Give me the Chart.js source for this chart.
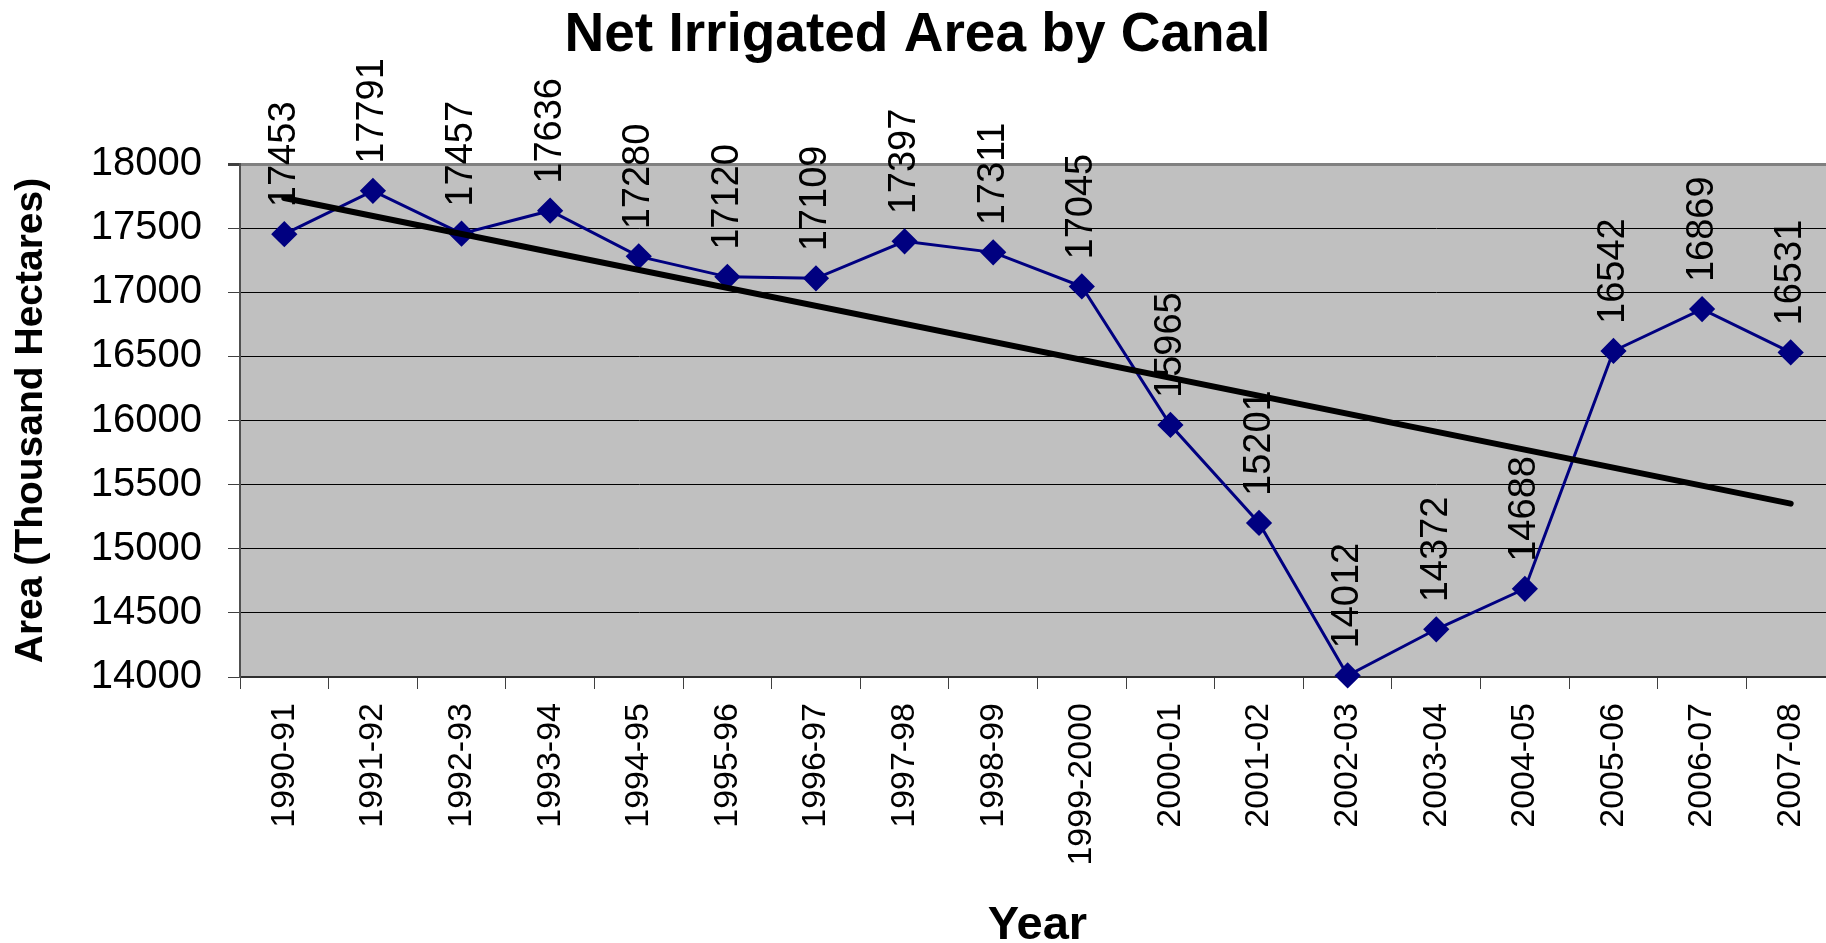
<!DOCTYPE html>
<html>
<head>
<meta charset="utf-8">
<script src="https://cdn.jsdelivr.net/npm/chart.js@4.4.0/dist/chart.umd.min.js"></script>
<style>
html, body { margin: 0; padding: 0; background: #fff; overflow: hidden; }
canvas { display: block; }
</style>
</head>
<body>
<canvas id="c" width="1835" height="943"></canvas>
<script>
// Agricultural years on the category axis
const years = ['1990-91', '1991-92', '1992-93', '1993-94', '1994-95', '1995-96',
  '1996-97', '1997-98', '1998-99', '1999-2000', '2000-01', '2001-02', '2002-03',
  '2003-04', '2004-05', '2005-06', '2006-07', '2007-08'];

// Net area irrigated by canals, thousand hectares
const netArea = [17453, 17791, 17457, 17636, 17280, 17120, 17109, 17397, 17311,
  17045, 15965, 15201, 14012, 14372, 14688, 16542, 16869, 16531];

// Linear trend value at the first and the last year
const trendEnds = [17735, 15352];

// Value axis ticks
const yTickValues = [14000, 14500, 15000, 15500, 16000, 16500, 17000, 17500, 18000];

const FONT = '"Liberation Sans", Arial, Helvetica, sans-serif';

const trendData = years.map((_, i) =>
  i === 0 ? trendEnds[0] : (i === years.length - 1 ? trendEnds[1] : null));

// Grey plot background
const plotBackground = {
  id: 'plotBackground',
  beforeDraw(chart) {
    const { ctx, chartArea: a } = chart;
    ctx.save();
    ctx.fillStyle = '#ffffff';
    ctx.fillRect(0, 0, chart.width, chart.height);
    ctx.fillStyle = '#c0c0c0';
    ctx.fillRect(a.left, a.top, a.right - a.left, a.bottom - a.top);
    ctx.restore();
  }
};

// Vertical value labels above each point of the main series
const valueLabels = {
  id: 'valueLabels',
  afterDatasetDraw(chart, args) {
    if (args.index !== 0) return;
    const { ctx } = chart;
    ctx.save();
    ctx.font = '38px ' + FONT;
    ctx.fillStyle = '#000';
    ctx.textAlign = 'left';
    ctx.textBaseline = 'middle';
    args.meta.data.forEach((pt, i) => {
      ctx.save();
      ctx.translate(pt.x, pt.y - 27);
      ctx.rotate(-Math.PI / 2);
      ctx.fillText(String(netArea[i]), 0, 0);
      ctx.restore();
    });
    ctx.restore();
  }
};

new Chart(document.getElementById('c'), {
  type: 'line',
  data: {
    labels: years,
    datasets: [
      {
        label: 'Net Irrigated Area',
        data: netArea,
        borderColor: '#000080',
        backgroundColor: '#000080',
        borderWidth: 3,
        pointStyle: 'rectRot',
        pointRadius: 11,
        pointHoverRadius: 11,
        pointBackgroundColor: '#000080',
        pointBorderColor: '#000080',
        tension: 0,
        clip: false,
        order: 1
      },
      {
        label: 'Linear trend',
        data: trendData,
        spanGaps: true,
        borderColor: '#000000',
        borderWidth: 6,
        borderCapStyle: 'round',
        pointRadius: 0,
        tension: 0,
        clip: false,
        order: 0
      }
    ]
  },
  options: {
    responsive: false,
    animation: false,
    devicePixelRatio: 1,
    layout: { padding: 0, autoPadding: false },
    plugins: {
      legend: { display: false },
      tooltip: { enabled: false },
      title: {
        display: true,
        text: 'Net Irrigated Area by Canal',
        color: '#000',
        font: { family: FONT, size: 55, weight: 'bold', lineHeight: 1.2 },
        padding: { top: 3, bottom: 95 }
      }
    },
    scales: {
      x: {
        offset: true,
        afterFit(scale) {
          scale.height = 266;
          scale.paddingLeft = 0;
          scale.paddingRight = 0;
        },
        grid: {
          offset: true,
          drawOnChartArea: false,
          drawTicks: true,
          tickLength: 12,
          color: '#404040',
          lineWidth: 1
        },
        border: { display: true, color: '#303030', width: 2 },
        ticks: {
          autoSkip: false,
          minRotation: 90,
          maxRotation: 90,
          padding: 14,
          color: '#000',
          font: { family: FONT, size: 34 }
        },
        title: {
          display: true,
          text: 'Year',
          color: '#000',
          font: { family: FONT, size: 47, weight: 'bold', lineHeight: 1 },
          padding: { top: 0, bottom: -7 }
        }
      },
      y: {
        min: 14000,
        max: 18000,
        afterFit(scale) { scale.width = 240; },
        afterBuildTicks(scale) { scale.ticks = yTickValues.map(v => ({ value: v })); },
        grid: {
          color: (c) => (c.tick && c.tick.value === 18000) ? '#808080' : '#000000',
          lineWidth: (c) => (c.tick && c.tick.value === 18000) ? 3 : 1,
          tickColor: '#404040',
          tickLength: 12
        },
        border: { display: true, color: '#505050', width: 2 },
        ticks: {
          padding: 26,
          color: '#000',
          font: { family: FONT, size: 40 },
          callback: (v) => String(v)
        },
        title: {
          display: true,
          text: 'Area (Thousand Hectares)',
          color: '#000',
          font: { family: FONT, size: 39, weight: 'bold', lineHeight: 1.2 },
          padding: { top: 8, bottom: 0 }
        }
      }
    }
  },
  plugins: [plotBackground, valueLabels]
});
</script>
</body>
</html>
